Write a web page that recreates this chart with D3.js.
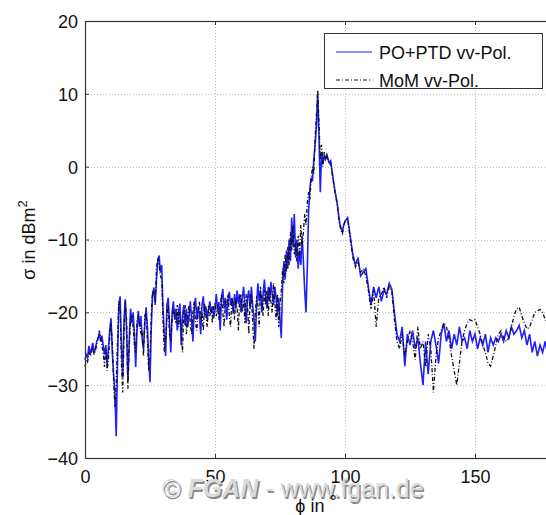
<!DOCTYPE html>
<html>
<head>
<meta charset="utf-8">
<script src="https://cdn.jsdelivr.net/npm/d3@7"></script>
<style>
  body { margin: 0; background: #fff; }
  svg { display: block; font-family: "Liberation Sans", Arial, sans-serif; }
</style>
</head>
<body>
<svg id="chart"></svg>
<script>
// Sample grid: 0.5 deg steps up to 99.5, then 1 deg steps to 180
const phiFine = d3.range(0, 100, 0.5);
const phiCoarse = d3.range(100, 181, 1);

// PO+PTD vv-Pol. (blue), 0 .. 99.5 deg
const poFine = [
  -26.5, -25.8, -26.2, -24.6, -25.8, -25.0, -24.2, -25.5, -25.0, -24.0,
  -23.6, -22.8, -24.0, -23.2, -24.6, -25.8, -24.5, -27.2, -25.0, -22.5,
  -20.8, -25.5, -28.5, -31.0, -37.0, -27.0, -19.0, -17.8, -24.5, -29.0,
  -21.0, -18.2, -22.5, -29.5, -24.0, -19.5, -21.5, -20.0, -23.0, -27.5,
  -22.5, -19.8, -22.0, -20.5, -23.8, -25.0, -21.5, -19.3, -22.0, -26.5,
  -29.6, -22.0, -17.5, -16.6, -19.0, -15.5, -13.0, -12.2, -14.5, -13.5,
  -19.5, -23.0, -26.0, -19.0, -18.0, -21.5, -25.5, -20.0, -18.5, -21.0,
  -19.5, -22.5, -20.0, -18.8, -24.5, -20.5, -19.0, -21.8, -19.5, -22.0,
  -20.5, -18.5, -20.8, -24.0, -19.5, -18.0, -21.0, -19.2, -20.2, -23.0,
  -19.0, -17.8, -20.5, -19.2, -21.0, -19.8, -18.5, -20.0, -19.2, -20.8,
  -19.5, -17.5, -19.8, -18.6, -22.5, -18.0, -16.8, -19.5, -18.0, -21.0,
  -18.5, -17.2, -19.0, -18.0, -20.2, -17.5, -19.5, -17.0, -18.8, -17.5,
  -20.0, -18.0, -16.5, -19.0, -21.5, -18.0, -17.0, -19.5, -16.5, -19.2,
  -21.0, -24.0, -19.0, -16.0, -18.5, -17.0, -20.0, -17.5, -15.5, -18.0,
  -19.5, -16.5, -18.5, -15.8, -17.5, -19.0, -16.5, -18.0, -20.5, -18.0,
  -21.0, -23.5, -16.0, -13.0, -15.5, -11.5, -14.0, -10.0, -13.0, -7.0,
  -11.0, -6.5, -12.5, -10.0, -14.0, -11.5, -13.5, -9.5, -13.0, -17.0,
  -20.0, -14.0, -6.0, -3.0, -1.5, -2.0, 1.0, 3.0, 5.5, 10.0,
  4.0, -3.5, 2.0, 0.5, 1.5, 1.0, 1.6, 1.0, 0.5, 0.8,
  -0.5, -1.8, -3.0, -4.0, -5.0, -6.5, -7.8, -8.5, -9.0, -8.0
];
// PO+PTD vv-Pol. (blue), 100 .. 180 deg
const poCoarse = [
  -7.5, -7.0, -9.5, -12.0, -13.5, -12.5, -15.0, -14.5, -14.0, -16.5,
  -19.0, -16.5, -18.0, -16.5, -18.5, -17.0, -17.5, -16.0, -16.8, -20.0,
  -23.0, -24.0, -22.0, -27.4, -23.0, -24.5, -22.5, -25.0, -23.5, -27.0,
  -30.0, -24.0, -28.5, -24.0, -22.5, -24.5, -27.0, -23.0, -21.5, -24.0,
  -22.5, -25.0, -23.0, -24.5, -22.0, -24.0, -23.5, -25.0, -22.5, -24.0,
  -23.0, -25.0, -23.5, -24.5, -23.0, -25.5, -23.5, -24.5, -23.5, -24.0,
  -23.0, -24.0, -22.5, -23.5, -22.0, -23.0, -22.5, -21.8, -23.5, -22.5,
  -24.5, -23.0, -25.5, -24.0, -26.0, -24.5, -25.5, -24.0, -26.0, -25.5,
  -25.0
];

// MoM vv-Pol. (black dash-dot), 0 .. 99.5 deg
const momFine = [
  -27.5, -26.5, -26.8, -25.5, -26.0, -25.5, -24.8, -25.8, -25.2, -24.5,
  -23.5, -22.5, -23.5, -24.5, -25.5, -27.5, -25.0, -28.0, -26.5, -23.5,
  -21.5, -24.0, -29.5, -33.0, -30.0, -24.0, -18.5, -19.0, -27.0, -31.0,
  -23.5, -18.5, -21.0, -30.5, -25.0, -21.0, -20.5, -22.0, -24.5, -25.5,
  -21.0, -20.5, -21.5, -23.0, -22.5, -26.0, -20.5, -20.0, -24.0, -28.0,
  -26.0, -20.0, -17.0, -17.5, -18.5, -14.0, -12.5, -13.5, -15.0, -15.5,
  -21.0, -25.5, -24.0, -20.5, -19.0, -23.0, -24.0, -21.0, -19.5, -20.5,
  -21.5, -19.0, -22.0, -20.0, -22.5, -25.5, -20.0, -19.0, -23.0, -20.5,
  -19.0, -21.5, -23.0, -20.0, -18.5, -21.5, -22.5, -20.0, -18.5, -21.0,
  -20.0, -22.5, -18.8, -20.5, -22.0, -19.0, -20.5, -19.5, -21.5, -19.0,
  -18.8, -20.5, -19.0, -21.0, -19.5, -17.5, -20.0, -22.0, -18.5, -19.0,
  -17.5, -20.5, -22.0, -18.0, -19.0, -21.0, -18.0, -19.5, -22.5, -18.0,
  -17.5, -20.0, -18.5, -21.5, -17.5, -19.0, -23.0, -18.0, -17.5, -21.5,
  -25.0, -20.0, -17.8, -19.0, -22.0, -16.5, -18.5, -20.5, -17.0, -19.0,
  -17.0, -20.5, -16.5, -18.5, -20.0, -16.0, -18.5, -21.0, -17.5, -22.0,
  -19.0, -17.0, -14.0, -16.0, -12.0, -14.5, -11.0, -13.5, -9.0, -11.5,
  -8.0, -12.0, -10.5, -13.0, -9.5, -12.5, -8.0, -11.0, -9.0, -6.5,
  -8.0, -5.0, -3.5, -4.5, -1.5, 0.0, -1.0, 4.0, 7.0, 10.5,
  6.0, 1.0, 3.0, 0.0, 2.0, 1.0, 1.8, 0.8, 0.5, 0.5,
  -0.8, -2.0, -3.2, -4.2, -5.2, -6.8, -8.0, -8.8, -9.2, -8.2
];
// MoM vv-Pol. (black dash-dot), 100 .. 180 deg
const momCoarse = [
  -7.5, -7.2, -9.8, -12.5, -13.8, -13.0, -14.5, -14.0, -15.0, -17.0,
  -19.5, -17.0, -22.0, -18.0, -17.5, -16.5, -18.0, -16.5, -17.0, -21.0,
  -24.0, -25.0, -23.0, -26.0, -24.0, -22.5, -24.0, -26.5, -22.0, -25.0,
  -24.0, -27.5, -23.0, -25.0, -31.0, -26.0, -23.5, -22.5, -21.5, -22.0,
  -23.5, -26.0, -28.0, -30.0, -27.0, -24.0, -22.5, -21.5, -21.0, -21.2,
  -21.0, -22.0, -23.0, -24.5, -25.5, -27.0, -27.4, -26.0, -24.5, -23.0,
  -22.5, -23.5, -24.0, -23.5, -22.0, -20.5, -19.5, -19.3, -20.5, -21.5,
  -22.3, -22.0, -21.0, -20.0, -19.8, -19.6, -20.0, -21.0, -21.5, -21.2,
  -21.0
];

const xTicks = [0, 50, 100, 150];
const yTicks = [-40, -30, -20, -10, 0, 10, 20];
const seriesNames = ["PO+PTD vv-Pol.", "MoM vv-Pol."];

// Dimensions
const width = 546, height = 515;
const plot = { left: 85, right: 553, top: 21, bottom: 458 };

const svg = d3.select("#chart")
    .attr("width", width)
    .attr("height", height);

svg.append("rect").attr("width", width).attr("height", height).attr("fill", "#fff");

// Scales
const xScale = d3.scaleLinear().domain([0, 180]).range([plot.left, plot.right]);
const yScale = d3.scaleLinear().domain([-40, 20]).range([plot.bottom, plot.top]);

// Dotted grid
const grid = svg.append("g")
    .attr("stroke", "#bdbdbd")
    .attr("stroke-width", 1)
    .attr("stroke-dasharray", "1,2");
grid.selectAll(".gy")
    .data(yTicks.filter(v => v > -40 && v < 20))
    .enter().append("line")
    .attr("x1", plot.left).attr("x2", plot.right)
    .attr("y1", d => Math.round(yScale(d)) + 0.5)
    .attr("y2", d => Math.round(yScale(d)) + 0.5);
grid.selectAll(".gx")
    .data(xTicks.filter(v => v > 0))
    .enter().append("line")
    .attr("y1", plot.top).attr("y2", plot.bottom)
    .attr("x1", d => Math.round(xScale(d)) + 0.5)
    .attr("x2", d => Math.round(xScale(d)) + 0.5);

// Line data
const toPts = (phi, vals) => phi.map((p, i) => ({ phi: p, v: vals[i] }));
const poData = toPts(phiFine, poFine).concat(toPts(phiCoarse, poCoarse));
const momData = toPts(phiFine, momFine).concat(toPts(phiCoarse, momCoarse));

const line = d3.line()
    .x(d => xScale(d.phi))
    .y(d => yScale(d.v));

svg.append("path")
    .datum(poData)
    .attr("fill", "none")
    .attr("stroke", "#1f1fff")
    .attr("stroke-width", 1.6)
    .attr("d", line);

svg.append("path")
    .datum(momData)
    .attr("fill", "none")
    .attr("stroke", "#111")
    .attr("stroke-width", 1.3)
    .attr("stroke-dasharray", "4,2,1,2")
    .attr("d", line);

// Axes
const axisStyle = g => {
    g.select(".domain").remove();
    g.selectAll(".tick line").attr("stroke", "#333");
    g.selectAll(".tick text")
        .attr("fill", "#111")
        .style("font-size", "18px")
        .style("font-family", "'Liberation Sans', Arial, sans-serif");
};

svg.append("g")
    .attr("transform", `translate(${plot.left},0)`)
    .call(d3.axisLeft(yScale).tickValues(yTicks).tickFormat(d3.format("d"))
        .tickSizeInner(-4).tickSizeOuter(0).tickPadding(7))
    .call(axisStyle)
    .selectAll(".tick text").attr("dy", "0.36em");

svg.append("g")
    .attr("transform", `translate(0,${plot.bottom})`)
    .call(d3.axisBottom(xScale).tickValues(xTicks)
        .tickSizeInner(-4).tickSizeOuter(0).tickPadding(12))
    .call(axisStyle);

svg.append("g")
    .attr("transform", `translate(0,${plot.top})`)
    .call(d3.axisTop(xScale).tickValues(xTicks.filter(v => v > 0)).tickFormat("")
        .tickSizeInner(-4).tickSizeOuter(0))
    .call(axisStyle);

// Frame
svg.append("rect")
    .attr("x", plot.left + 0.5).attr("y", plot.top + 0.5)
    .attr("width", plot.right - plot.left).attr("height", plot.bottom - plot.top)
    .attr("fill", "none")
    .attr("stroke", "#333")
    .attr("stroke-width", 1.2);

// Legend
const legend = svg.append("g");
legend.append("rect")
    .attr("x", 324.5).attr("y", 33.5)
    .attr("width", 218).attr("height", 55)
    .attr("fill", "#fff")
    .attr("stroke", "#333");
const legendRows = [
    { name: seriesNames[0], color: "#1f1fff", dash: null, y: 52 },
    { name: seriesNames[1], color: "#111", dash: "4,2,1,2", y: 80 }
];
legendRows.forEach(r => {
    legend.append("line")
        .attr("x1", 336).attr("x2", 372)
        .attr("y1", r.y).attr("y2", r.y)
        .attr("stroke", r.color)
        .attr("stroke-width", 1.2)
        .attr("stroke-dasharray", r.dash);
    legend.append("text")
        .attr("x", 379).attr("y", r.y + 7)
        .style("font-size", "18px")
        .attr("fill", "#111")
        .text(r.name);
});

// Watermark (drawn under the x title)
const wm = svg.append("g").style("font-size", "25px");
[{ dx: 1.5, dy: 1.5, fill: "#8a8a8a" }, { dx: 0, dy: 0, fill: "#dadada" }].forEach(s => {
    const t = wm.append("text")
        .attr("x", 162 + s.dx).attr("y", 497 + s.dy)
        .attr("fill", s.fill);
    t.append("tspan").text("© ");
    t.append("tspan").style("font-weight", "bold").style("font-style", "italic").text("FGAN");
    t.append("tspan").text(" - www.fgan.de");
});

// Axis titles
const yTitle = svg.append("text")
    .attr("transform", "rotate(-90)")
    .attr("x", -240)
    .attr("y", 35)
    .attr("text-anchor", "middle")
    .style("font-size", "18px")
    .attr("fill", "#111");
yTitle.append("tspan").text("σ in dBm");
yTitle.append("tspan").attr("dy", -8).style("font-size", "13px").text("2");

const xTitle = svg.append("text")
    .attr("x", 316)
    .attr("y", 512)
    .attr("text-anchor", "middle")
    .style("font-size", "18px")
    .attr("fill", "#111");
xTitle.append("tspan").text("ϕ in ");
xTitle.append("tspan").attr("dy", -4).text("°");
</script>
</body>
</html>
